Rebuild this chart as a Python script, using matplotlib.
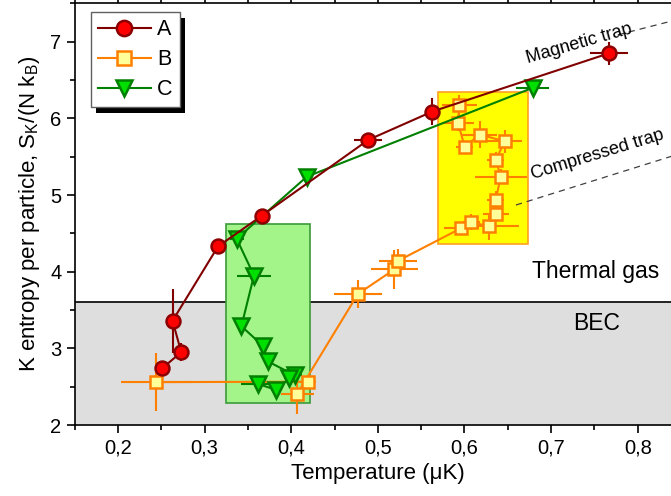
import numpy as np
import matplotlib
matplotlib.use('Agg')
from matplotlib import pyplot as plt
from matplotlib.patches import Rectangle
from matplotlib.ticker import MultipleLocator, FuncFormatter

plt.rcParams['font.family'] = ['Liberation Sans', 'DejaVu Sans']
plt.rcParams['mathtext.fontset'] = 'custom'
plt.rcParams['mathtext.rm'] = 'Liberation Sans'

# series A (magnetic trap)
a_T = [0.251, 0.273, 0.263, 0.3155, 0.366, 0.489, 0.563, 0.767]
a_S = [2.74, 2.95, 3.36, 4.33, 4.73, 5.72, 6.09, 6.85]
a_dT = [0.005, 0.005, 0.004, 0.004, 0.004, 0.016, 0.005, 0.022]
a_dS = [0.05, 0.12, 0.42, 0.05, 0.05, 0.09, 0.17, 0.15]

# series B (compressed trap)
b_T = [0.244, 0.419, 0.407, 0.477, 0.519, 0.523, 0.5965, 0.608, 0.628, 0.636,
       0.636, 0.642, 0.636, 0.6466, 0.6177, 0.6003, 0.5926, 0.594]
b_S = [2.56, 2.565, 2.41, 3.71, 4.03, 4.14, 4.57, 4.65, 4.59, 4.75,
       4.935, 5.24, 5.46, 5.70, 5.79, 5.63, 5.94, 6.17]
b_dT = [0.04, 0.01, 0.019, 0.028, 0.027, 0.022, 0.02, 0.01, 0.035, 0.015,
        0.01, 0.03, 0.01, 0.02, 0.02, 0.01, 0.018, 0.02]
b_dS = [0.38, 0.05, 0.26, 0.18, 0.25, 0.15, 0.05, 0.1, 0.17, 0.1,
        0.12, 0.1, 0.1, 0.15, 0.17, 0.05, 0.1, 0.13]

# series C
c_T = [0.679, 0.418, 0.337, 0.357, 0.3425, 0.3675, 0.373, 0.404, 0.398, 0.382, 0.362]
c_S = [6.40, 5.24, 4.43, 3.95, 3.29, 3.03, 2.83, 2.65, 2.61, 2.46, 2.535]
c_dT = [0.019, 0.004, 0.008, 0.02, 0.004, 0.005, 0.004, 0.008, 0.006, 0.005, 0.02]
c_dS = [0.05, 0.08, 0.05, 0.1, 0.05, 0.08, 0.05, 0.05, 0.05, 0.05, 0.05]

bec_level = 3.6
green_box = (0.325, 2.29, 0.4216, 4.62)
yellow_box = (0.5695, 4.36, 0.6734, 6.34)

fig = plt.figure(figsize=(6.71, 4.96), dpi=100)
ax = fig.add_axes([0.1113, 0.1431, 0.9036, 0.850])

ax.axhspan(2, bec_level, facecolor='#dedede', edgecolor='none', zorder=0)
ax.axhline(bec_level, color='black', lw=1.2, zorder=1)

x0, y0, x1, y1 = green_box
ax.add_patch(Rectangle((x0, y0), x1 - x0, y1 - y0, facecolor='#a3f58a',
                       edgecolor='#3a9a3a', lw=1.2, zorder=1))
x0, y0, x1, y1 = yellow_box
ax.add_patch(Rectangle((x0, y0), x1 - x0, y1 - y0, facecolor='#ffff00',
                       edgecolor='#ffa020', lw=1.2, zorder=1))

# trap guide lines
ax.plot([0.777, 0.86], [7.09, 7.33], color='#404040', lw=0.9, ls=(0, (5, 4)), zorder=2)
ax.plot([0.6594, 0.86], [4.87, 5.58], color='#404040', lw=0.9, ls=(0, (5, 4)), zorder=2)
ax.text(0.733, 6.98, 'Magnetic trap', fontsize=13, rotation=16, ha='center', va='center')
ax.text(0.7535, 5.53, 'Compressed trap', fontsize=13, rotation=17, ha='center', va='center')
ax.text(0.752, 4.0, 'Thermal gas', fontsize=16.5, ha='center', va='center')
ax.text(0.753, 3.33, 'BEC', fontsize=16.5, ha='center', va='center')

series = [
    (b_T, b_S, b_dT, b_dS, '#ff8000', 's', '#ffff99', '#ff8000', 'B', 9),
    (c_T, c_S, c_dT, c_dS, '#008000', 'v', '#00e000', '#008000', 'C', 11),
    (a_T, a_S, a_dT, a_dS, '#800000', 'o', '#ff0000', '#8b0000', 'A', 10),
]
handles = {}
for T, S, dT, dS, col, mk, fc, ec, lab, ms in series:
    ax.errorbar(T, S, xerr=dT, yerr=dS, fmt='none', ecolor=col, elinewidth=1.5,
                capsize=0, zorder=3)
    h, = ax.plot(T, S, '-', color=col, lw=1.5, marker=mk, ms=ms, mfc=fc, mec=ec,
                 mew=1.8, label=lab, zorder=4)
    handles[lab] = h

leg = ax.legend([handles['A'], handles['B'], handles['C']], ['A', 'B', 'C'],
                loc='upper left', bbox_to_anchor=(0.027, 0.979), borderaxespad=0,
                fontsize=15.5, fancybox=False, shadow=False, markerscale=1.1,
                framealpha=1, edgecolor='#606060', handlelength=2.45,
                labelspacing=0.42, borderpad=0.32, handletextpad=0.3)
leg.get_frame().set_linewidth(1.0)
leg.set_zorder(6)

ax.set_xlim(0.15, 0.85)
ax.set_ylim(2, 7.5)
ax.xaxis.set_major_locator(MultipleLocator(0.1))
ax.xaxis.set_minor_locator(MultipleLocator(0.05))
ax.yaxis.set_major_locator(MultipleLocator(1))
ax.yaxis.set_minor_locator(MultipleLocator(0.5))
ax.xaxis.set_major_formatter(FuncFormatter(lambda v, p: ('%.1f' % v).replace('.', ',')))
ax.yaxis.set_major_formatter(FuncFormatter(lambda v, p: '%d' % round(v)))
ax.tick_params(which='both', direction='out', top=True, right=False, labelsize=14.5,
               width=1.2)
ax.tick_params(which='major', length=6)
ax.tick_params(which='minor', length=3.6)
for s in ax.spines.values():
    s.set_linewidth(1.2)

ax.set_xlabel('Temperature (μK)', fontsize=16, labelpad=4)
ax.set_ylabel(r'K entropy per particle, S$_\mathregular{K}$/(N k$_\mathregular{B}$)',
              fontsize=16, labelpad=6)

# black drop shadow behind the legend, offset a few pixels
fig.canvas.draw()
bb = leg.get_frame().get_window_extent().transformed(fig.transFigure.inverted())
dx, dy = 5 / 671, 6 / 496
ax.add_patch(Rectangle((bb.x0 + dx, bb.y0 - dy), bb.width, bb.height,
                       transform=fig.transFigure, facecolor='black',
                       edgecolor='none', zorder=5.5, clip_on=False))

fig.savefig('out.png', dpi=100)
